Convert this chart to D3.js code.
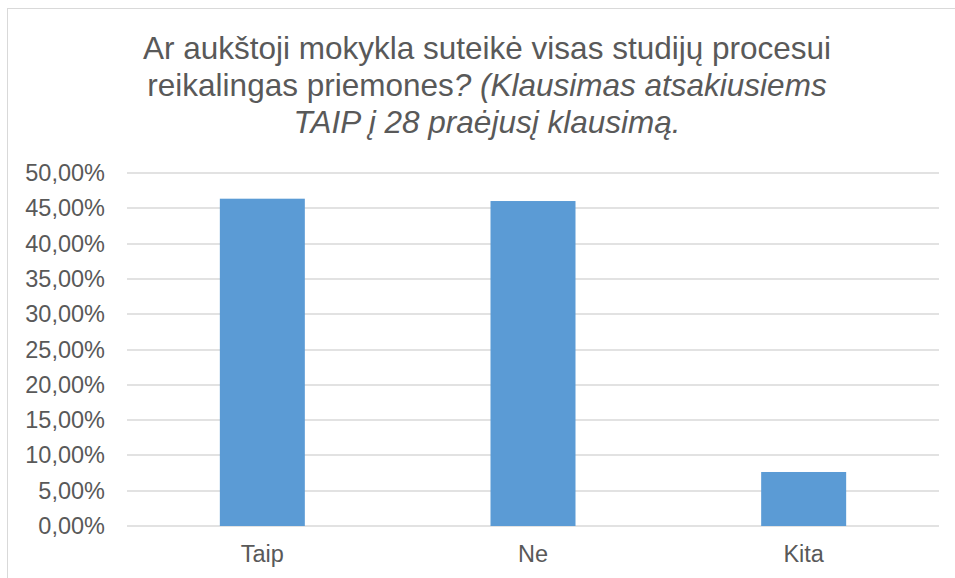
<!DOCTYPE html>
<html>
<head>
<meta charset="utf-8">
<script src="https://cdn.jsdelivr.net/npm/d3@7"></script>
<style>
  body { margin: 0; background: #fff; }
  svg { display: block; font-family: "Liberation Sans", Arial, sans-serif; }
</style>
</head>
<body>
<svg width="955" height="578"></svg>
<script>
const categories = ["Taip", "Ne", "Kita"]
const values = [46.36, 46.03, 7.65]
const yTicks = [0, 5, 10, 15, 20, 25, 30, 35, 40, 45, 50]

const svg = d3.select("svg")

// chart frame (runs off the right and bottom edge, like the screenshot)
svg.append("rect")
  .attr("x", 7.5).attr("y", 8.5)
  .attr("width", 960).attr("height", 600)
  .attr("fill", "none").attr("stroke", "#d9d9d9").attr("stroke-width", 1)

const plot = {left: 127, right: 939, top: 173, bottom: 526}

const x = d3.scaleBand()
  .domain(categories)
  .range([plot.left, plot.right])
  .paddingInner(0.686)
  .paddingOuter(0.343)

const y = d3.scaleLinear()
  .domain([0, 50])
  .range([plot.bottom, plot.top])

// gridlines
svg.append("g")
  .selectAll("line")
  .data(yTicks)
  .enter().append("line")
  .attr("x1", plot.left).attr("x2", plot.right)
  .attr("y1", d => Math.round(y(d)))
  .attr("y2", d => Math.round(y(d)))
  .attr("stroke", "#d9d9d9").attr("stroke-width", 1.5)

// y axis labels
const yAxis = d3.axisLeft(y)
  .tickValues(yTicks)
  .tickSize(0)
  .tickPadding(0)
  .tickFormat(d => d3.format(".2f")(d).replace(".", ",") + "%")

svg.append("g")
  .attr("transform", `translate(105,0)`)
  .call(yAxis)
  .call(g => g.select(".domain").remove())
  .selectAll("text")
  .attr("font-size", 23.5)
  .attr("font-family", "Liberation Sans, Arial, sans-serif")
  .attr("fill", "#595959")

// bars
svg.append("g")
  .selectAll("rect")
  .data(categories)
  .enter().append("rect")
  .attr("x", d => x(d))
  .attr("width", x.bandwidth())
  .attr("y", (d, i) => y(values[i]))
  .attr("height", (d, i) => y(0) - y(values[i]))
  .attr("fill", "#5b9bd5")

// x axis labels
const xAxis = d3.axisBottom(x).tickSize(0).tickPadding(0)
svg.append("g")
  .attr("transform", `translate(0,562)`)
  .call(xAxis)
  .call(g => g.select(".domain").remove())
  .selectAll("text")
  .attr("dy", 0)
  .attr("font-size", 23.5)
  .attr("font-family", "Liberation Sans, Arial, sans-serif")
  .attr("fill", "#595959")

// title
const title = svg.append("text")
  .attr("text-anchor", "middle")
  .attr("font-size", 31.5)
  .attr("fill", "#595959")

title.append("tspan").attr("x", 487).attr("y", 58.5)
  .text("Ar aukštoji mokykla suteikė visas studijų procesui")
const l2 = title.append("tspan").attr("x", 487).attr("y", 95.5)
l2.append("tspan").text("reikalingas priemones")
l2.append("tspan").attr("font-style", "italic").text("? (Klausimas atsakiusiems")
title.append("tspan").attr("x", 487).attr("y", 133)
  .attr("font-style", "italic")
  .text("TAIP į 28 praėjusį klausimą.")
</script>
</body>
</html>
